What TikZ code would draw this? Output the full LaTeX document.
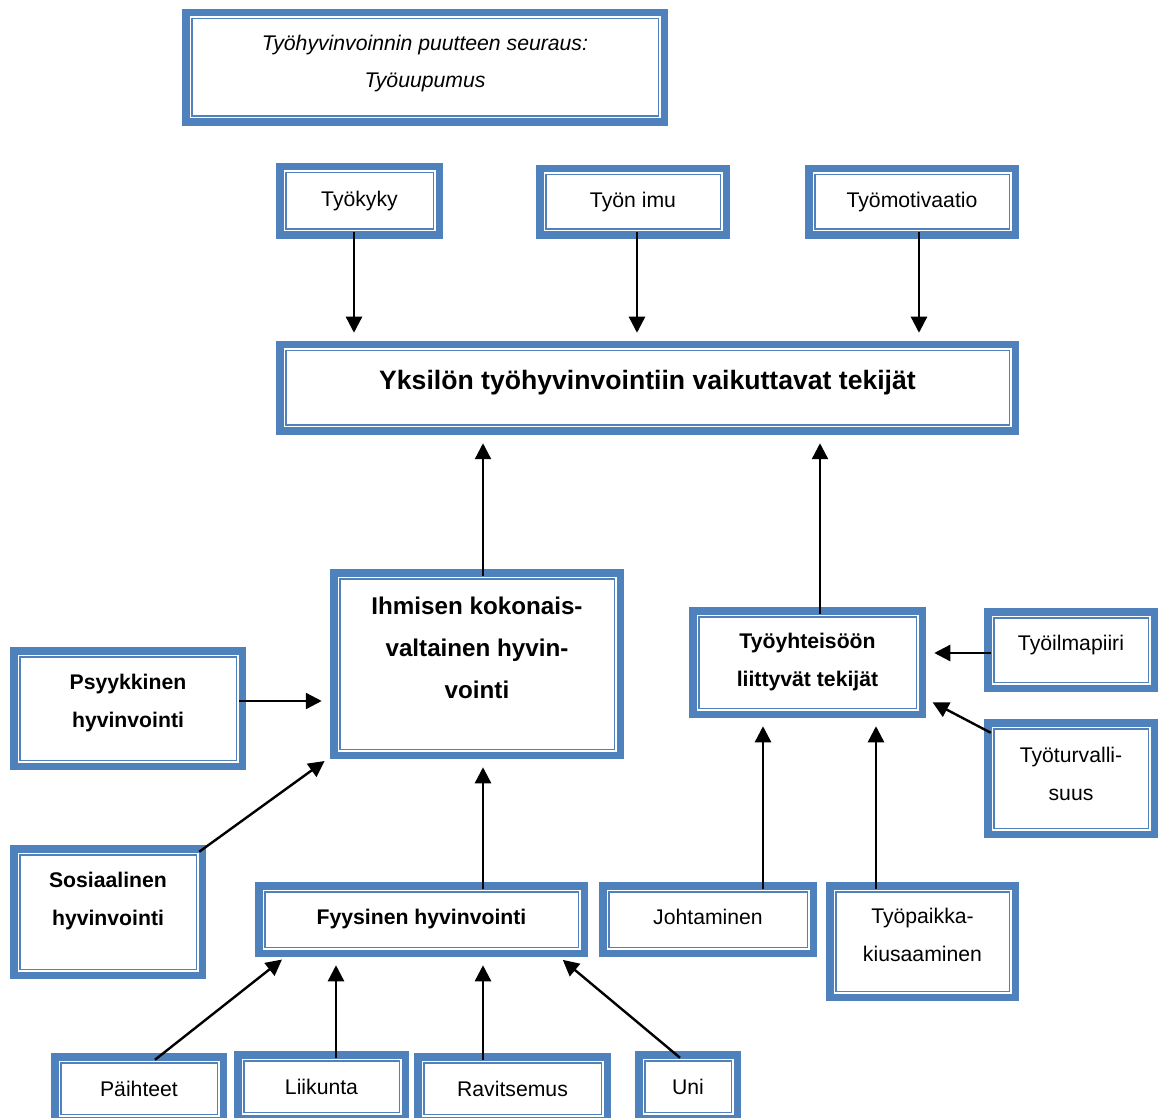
\documentclass[tikz,border=0pt]{standalone}
\usepackage{fontspec}
\setmainfont{Liberation Sans}
\usepackage{tikz}
\usetikzlibrary{arrows.meta}
\definecolor{boxblue}{RGB}{79,129,189}
\newcommand{\padbelow}[1]{\rule[-#1]{0pt}{0pt}}

\begin{document}
\begin{tikzpicture}[
    x=0.5pt, y=-0.5pt,
    wbox/.style={preaction={draw=boxblue, line width=9.75pt},
        fill=white, draw=white, line width=2.25pt,
        postaction={draw=boxblue, line width=0.75pt},
        inner sep=0pt, outer sep=1.5pt, align=center,
        font=\fontsize{10.6}{19}\selectfont},
    boldtext/.style={font=\fontsize{10.6}{19}\selectfont\bfseries},
    sz/.style 2 args={minimum width=#1*0.5pt-9.75pt, minimum height=#2*0.5pt-9.75pt},
    arr/.style={-{Triangle[length=8pt, width=8pt]}, line width=1.2pt, shorten >=7.5pt}]
    \useasboundingbox (0,0) rectangle (1158,1118);
    \clip (0,0) rectangle (1158,1118);
    % Top boxes
    \node[wbox, sz={486}{117}, font=\fontsize{10.6}{18.5}\selectfont\itshape] (seuraus) at (425,67.5) {Työhyvinvoinnin puutteen seuraus:\\Työuupumus\padbelow{6.2pt}};
    \node[wbox, sz={167}{76}] (tyokyky) at (359.5,201) {Työkyky};
    \node[wbox, sz={194}{74}] (imu) at (633,202) {Työn imu};
    \node[wbox, sz={214}{74}] (motivaatio) at (912,202) {Työmotivaatio};
    \node[wbox, sz={743}{94}, font=\fontsize{13.3}{16}\selectfont\bfseries] (yksilo) at (647.5,388) {Yksilön työhyvinvointiin vaikuttavat tekijät\padbelow{7.8pt}};
    % Middle boxes
    \node[wbox, sz={294}{190}, font=\fontsize{12.1}{21}\selectfont\bfseries] (ihminen) at (477,664) {Ihmisen kokonais-\\valtainen hyvin-\\vointi\padbelow{16pt}};
    \node[wbox, boldtext, sz={237}{111}] (yhteiso) at (807.5,662.5) {Työyhteisöön\\liittyvät tekijät};
    \node[wbox, sz={174}{84}] (ilmapiiri) at (1071,650) {Työilmapiiri\padbelow{7.2pt}};
    \node[wbox, sz={174}{119}] (turvallisuus) at (1071,778.5) {Työturvalli-\\suus\padbelow{5pt}};
    \node[wbox, boldtext, sz={236}{123}] (psyykkinen) at (128,708.5) {Psyykkinen\\hyvinvointi\padbelow{7.7pt}};
    \node[wbox, boldtext, sz={196}{134}] (sosiaalinen) at (108,912) {Sosiaalinen\\hyvinvointi\padbelow{13.2pt}};
    \node[wbox, boldtext, sz={333}{75}] (fyysinen) at (421.5,919.5) {Fyysinen hyvinvointi};
    \node[wbox, sz={218}{75}] (johtaminen) at (708,919.5) {Johtaminen\padbelow{2.8pt}};
    \node[wbox, sz={193}{119}] (kiusaaminen) at (922.5,941.5) {Työpaikka-\\kiusaaminen\padbelow{6.5pt}};
    % Bottom row
    \node[wbox, sz={176}{71}] (paihteet) at (139,1088.5) {Päihteet};
    \node[wbox, sz={175}{71}] (liikunta) at (321.5,1086.5) {Liikunta};
    \node[wbox, sz={197}{71}] (ravitsemus) at (512.5,1088.5) {Ravitsemus};
    \node[wbox, sz={106}{71}] (uni) at (688,1086.5) {Uni};
    % Arrows into the main box
    \draw[arr] ([xshift=-2.75pt]tyokyky.south) -- ([xshift=-2.75pt]tyokyky.south |- yksilo.north);
    \draw[arr] ([xshift=2pt]imu.south) -- ([xshift=2pt]imu.south |- yksilo.north);
    \draw[arr] ([xshift=3.5pt]motivaatio.south) -- ([xshift=3.5pt]motivaatio.south |- yksilo.north);
    \draw[arr] ([xshift=3pt]ihminen.north) -- ([xshift=3pt]ihminen.north |- yksilo.south);
    \draw[arr] ([xshift=6.25pt]yhteiso.north) -- ([xshift=6.25pt]yhteiso.north |- yksilo.south);
    % Arrows into the wellbeing box
    \draw[arr] ([yshift=3.75pt]psyykkinen.east) -- ([yshift=3.75pt]psyykkinen.east -| ihminen.west);
    \draw[arr] (sosiaalinen.north east) -- (ihminen.south west);
    \draw[arr] ([xshift=3pt]ihminen.south |- fyysinen.north) -- ([xshift=3pt]ihminen.south);
    % Arrows into the work community box
    \draw[arr] ([xshift=27.5pt]johtaminen.north) -- ([xshift=27.5pt]johtaminen.north |- yhteiso.south);
    \draw[arr] ([xshift=-23.25pt]kiusaaminen.north) -- ([xshift=-23.25pt]kiusaaminen.north |- yhteiso.south);
    \draw[arr] ([yshift=-1.5pt]ilmapiiri.west) -- ([yshift=-1.5pt]ilmapiiri.west -| yhteiso.east);
    \draw[arr] ([yshift=-3.5pt]turvallisuus.north west) -- ([yshift=8pt]yhteiso.south east);
    % Arrows into the physical box
    \draw[arr] ([xshift=8pt]paihteet.north) -- ([xshift=16pt]fyysinen.south west);
    \draw[arr] ([xshift=7.25pt]liikunta.north) -- ([xshift=7.25pt]liikunta.north |- fyysinen.south);
    \draw[arr] ([xshift=-14.75pt]ravitsemus.north) -- ([xshift=-14.75pt]ravitsemus.north |- fyysinen.south);
    \draw[arr] ([xshift=-4pt]uni.north) -- ([xshift=-15pt]fyysinen.south east);
\end{tikzpicture}
\end{document}
